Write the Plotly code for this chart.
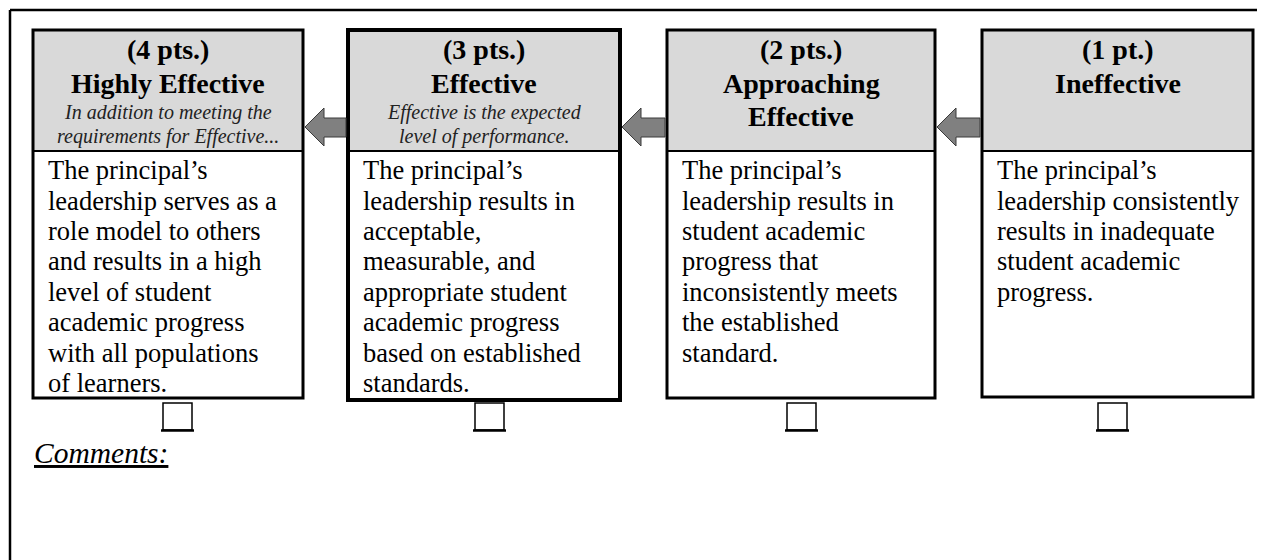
import plotly.graph_objects as go

# ---------------- data ----------------
points = ["(4 pts.)", "(3 pts.)", "(2 pts.)", "(1 pt.)"]
titles = [["Highly Effective"], ["Effective"], ["Approaching", "Effective"], ["Ineffective"]]
subtitles = [
    ["In addition to meeting the", "requirements for Effective..."],
    ["Effective is the expected", "level of performance."],
    [],
    [],
]
descriptions = [
    ["The principal\u2019s", "leadership serves as a", "role model to others",
     "and results in a high", "level of student", "academic progress",
     "with all populations", "of learners."],
    ["The principal\u2019s", "leadership results in", "acceptable,",
     "measurable, and", "appropriate student", "academic progress",
     "based on established", "standards."],
    ["The principal\u2019s", "leadership results in", "student academic",
     "progress that", "inconsistently meets", "the established", "standard."],
    ["The principal\u2019s", "leadership consistently", "results in inadequate",
     "student academic", "progress."],
]
comments_label = "Comments:"

# ---------------- layout constants ----------------
W, H = 1265, 560
OFF = 8  # page body margin
box_left = [33, 348, 667, 982]
box_right = [303, 620, 935, 1253]
box_bottom = [398, 400, 398, 397]
box_lw = [3, 4, 3, 3]
box_top = 30
header_bottom = 151
check_left = [163, 475, 787, 1098]
check_w = 29
check_top, check_bottom = 403, 430

SERIF = "Liberation Serif"
bold_size = 28
ital_size = 20
body_size = 26.5

fig = go.Figure()
shapes = []
ann = []

# outer frame (top and left edges visible)
shapes.append(dict(type="line", x0=10, x1=W + 5, y0=10, y1=10, line=dict(color="black", width=2.5)))
shapes.append(dict(type="line", x0=10, x1=10, y0=10, y1=H + 5, line=dict(color="black", width=2.5)))


def text(x, y, s, size, bold=False, italic=False, anchor="center", color="black"):
    if bold:
        s = "<b>" + s + "</b>"
    if italic:
        s = "<i>" + s + "</i>"
    ann.append(dict(x=x, y=y, xref="x", yref="y", text=s, showarrow=False,
                    xanchor=anchor, yanchor="middle",
                    font=dict(family=SERIF, size=size, color=color), borderpad=0))


for i in range(4):
    l, r, b = box_left[i], box_right[i], box_bottom[i]
    shapes.append(dict(type="rect", x0=l, x1=r, y0=box_top, y1=header_bottom,
                       fillcolor="#d9d9d9", line=dict(width=0), layer="below"))
    shapes.append(dict(type="line", x0=l, x1=r, y0=header_bottom, y1=header_bottom,
                       line=dict(color="black", width=2)))
    shapes.append(dict(type="rect", x0=l, x1=r, y0=box_top, y1=b,
                       line=dict(color="black", width=box_lw[i]), fillcolor="rgba(0,0,0,0)"))
    cx = (l + r) / 2
    text(cx, 59 - 0.33 * bold_size, points[i], bold_size, bold=True)
    for j, t in enumerate(titles[i]):
        base = [93, 126][j]
        text(cx, base - 0.33 * bold_size, t, bold_size, bold=True)
    for j, t in enumerate(subtitles[i]):
        base = [119, 143][j]
        text(cx, base - 0.33 * ital_size, t, ital_size, italic=True, color="#222222")
    for j, t in enumerate(descriptions[i]):
        base = 179 + 30.4 * j
        text(l + 14, base - 0.33 * body_size, t, body_size, anchor="left")
    cl = check_left[i]
    shapes.append(dict(type="rect", x0=cl, x1=cl + check_w, y0=check_top, y1=check_bottom,
                       line=dict(color="black", width=1.5)))
    shapes.append(dict(type="line", x0=cl - 2, x1=cl + check_w + 2, y0=check_bottom + 0.5,
                       y1=check_bottom + 0.5, line=dict(color="black", width=2.5)))

# arrows between boxes (pointing left)
for i in range(3):
    tip = box_right[i] + 2
    end = box_left[i + 1] - 2
    hb = tip + 19
    path = (f"M {tip},127 L {hb},108 L {hb},118 L {end},118 L {end},137 "
            f"L {hb},137 L {hb},146 Z")
    shapes.append(dict(type="path", path=path, fillcolor="#808080",
                       line=dict(color="#3a3a3a", width=1)))

text(33, 463 - 0.33 * 29.5, "<u>" + comments_label + "</u>", 29.5, italic=True, anchor="left")

fig.update_layout(
    width=W - OFF, height=H - OFF, margin=dict(l=0, r=0, t=0, b=0),
    paper_bgcolor="white", plot_bgcolor="white",
    xaxis=dict(range=[OFF, W], visible=False, fixedrange=True),
    yaxis=dict(range=[H, OFF], visible=False, fixedrange=True),
    shapes=shapes, annotations=ann, showlegend=False,
)
fig.write_html("out.html")
